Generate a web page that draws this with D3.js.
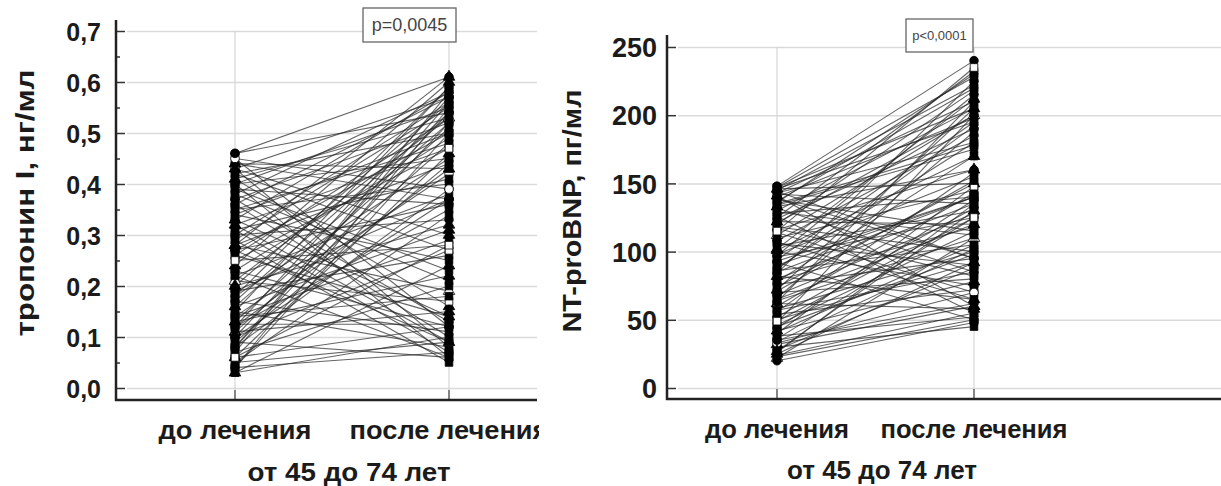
<!DOCTYPE html>
<html lang="ru">
<head>
  <meta charset="UTF-8">
  <title>тропонин I и NT-proBNP до и после лечения</title>
  <style>
    body{ margin: 0; background: #fff; }
    text{ font-family: "Liberation Sans", Arial, sans-serif; }
    .lbl{ font-weight: bold; fill: #1b1b1b; }
    .grid line{ stroke: #dadada; stroke-width: 1.5px; }
    .grid path{ display: none; }
    .ticks line{ stroke: #333; stroke-width: 1.5px; }
    .ticks path{ display: none; }
    .pair{ fill: none; stroke: #222; stroke-width: 1.1px; stroke-opacity: 0.7; }
    .frame{ stroke: #222; stroke-width: 2.5px; }
    .vgrid{ stroke: #d6d6d6; stroke-width: 1.2px; }
  </style>
</head>
<body>
  <script src="https://cdn.jsdelivr.net/npm/d3@7/dist/d3.min.js"></script>
  <script>
    const groups = ['до лечения', 'после лечения'];
    const ageLabel = 'от 45 до 74 лет';

    // тропонин I, нг/мл (пары до / после)
    const tropBefore = [0.46,0.45,0.44,0.43,0.43,0.42,0.42,0.41,0.40,0.40,0.39,0.38,0.37,0.36,0.35,0.34,0.33,0.33,0.32,0.31,0.30,0.29,0.28,0.28,0.27,0.26,0.25,0.24,0.23,0.23,0.22,0.21,0.20,0.19,0.18,0.17,0.17,0.16,0.15,0.15,0.14,0.13,0.13,0.125,0.12,0.12,0.11,0.11,0.10,0.10,0.09,0.09,0.08,0.08,0.07,0.07,0.06,0.06,0.05,0.05,0.04,0.04,0.03,0.03,0.36,0.31,0.27,0.21,0.19,0.14,0.26,0.39,0.44,0.29,0.35,0.41,
      0.45,0.43,0.40,0.38,0.37,0.34,0.32,0.30,0.27,0.25,0.22,0.20,0.18,0.16,0.14,0.12,0.10,0.08,0.06,0.04,0.46,0.28];
    const tropAfter = [0.61,0.12,0.43,0.08,0.57,0.27,0.50,0.16,0.55,0.06,0.36,0.21,0.52,0.10,0.40,0.25,0.58,0.14,0.47,0.07,0.33,0.55,0.19,0.44,0.09,0.53,0.28,0.60,0.12,0.49,0.38,0.17,0.56,0.26,0.45,0.11,0.54,0.31,0.59,0.08,0.42,0.51,0.22,0.125,0.57,0.35,0.48,0.15,0.54,0.27,0.44,0.06,0.39,0.52,0.20,0.58,0.12,0.46,0.09,0.34,0.07,0.55,0.24,0.10,0.57,0.41,0.50,0.53,0.37,0.29,0.14,0.23,0.37,0.05,0.48,0.53,
      0.39,0.30,0.45,0.58,0.13,0.50,0.09,0.56,0.36,0.47,0.06,0.32,0.59,0.52,0.18,0.43,0.37,0.56,0.28,0.50,0.54,0.61];
    const tropTicks = [0, 0.1, 0.2, 0.3, 0.4, 0.5, 0.6, 0.7];
    const tropMinor = [0.05, 0.15, 0.25, 0.35, 0.45, 0.55, 0.65];

    // NT-proBNP, пг/мл
    const bnpBefore = [148,147,146,145,144,143,142,141,140,138,136,134,132,130,128,126,124,122,120,118,116,114,112,110,108,106,104,102,100,98,96,94,92,90,88,86,84,82,80,78,76,74,72,70,68,66,64,62,60,58,56,54,52,50,48,46,44,42,40,38,36,34,32,30,28,26,24,22,20,135,125,117,97,85,65,45,33,27,
      147,143,139,137,133,129,121,115,107,101,93,87,79,71,63,57,49,41,35,25,23,146];
    const bnpAfter = [240,228,150,222,95,210,135,60,198,115,230,175,85,205,140,55,190,120,218,100,160,70,200,145,185,90,130,212,75,155,125,195,50,140,180,105,225,65,135,170,95,150,205,80,128,188,110,58,143,100,158,72,132,92,200,115,138,78,148,52,125,102,60,45,88,135,55,110,48,178,232,82,215,140,120,98,70,130,
      205,180,95,220,160,112,200,235,65,170,140,192,118,152,210,85,125,105,62,92,50,195];
    const bnpTicks = [0, 50, 100, 150, 200, 250];

    const svg = d3.select('body').append('svg').attr('width', 1221).attr('height', 486);

    function stretched(sel, len){
      return sel.attr('textLength', len).attr('lengthAdjust', 'spacingAndGlyphs');
    }

    function panel(c){
      const g = svg.append('g');
      if(c.clip){
        svg.append('clipPath').attr('id', c.id).append('rect')
          .attr('x', 0).attr('y', 0).attr('width', c.clip).attr('height', 486);
        g.attr('clip-path', `url(#${c.id})`);
      }
      const y = d3.scaleLinear().domain(c.domain).range(c.yRange);
      const x = d3.scalePoint().domain(groups).range(c.xRange);

      // horizontal grid
      g.append('g').attr('class', 'grid')
        .attr('transform', `translate(${c.right},0)`)
        .call(d3.axisLeft(y).tickValues(c.ticks).tickSize(c.right - c.left - 11).tickFormat(''));
      // vertical grid at categories
      groups.forEach(k => {
        g.append('line').attr('class', 'vgrid')
          .attr('x1', x(k)).attr('x2', x(k)).attr('y1', y(c.ticks[c.ticks.length - 1])).attr('y2', c.bottom);
        g.append('line').attr('stroke', '#444').attr('stroke-width', 1.2)
          .attr('x1', x(k)).attr('x2', x(k)).attr('y1', c.bottom - 10).attr('y2', c.bottom);
      });

      const pairs = c.before.map((v, i) => [v, c.after[i]]);
      const line = d3.line().x((d, j) => x(groups[j])).y(d => y(d));
      g.selectAll('path.pair').data(pairs).enter().append('path')
        .attr('class', 'pair')
        .attr('d', d => line(d));

      const pts = [];
      pairs.forEach((p, i) => { pts.push({ k: groups[0], v: p[0], i }); pts.push({ k: groups[1], v: p[1], i }); });
      const sym = d3.symbol().size(58);
      g.selectAll('path.mk').data(pts).enter().append('path')
        .attr('class', 'mk')
        .attr('transform', d => `translate(${x(d.k)},${y(d.v)})`)
        .attr('d', d => sym.type(d.i % 4 === 0 ? d3.symbolCircle : d.i % 5 === 2 ? d3.symbolTriangle : d3.symbolSquare)())
        .attr('fill', d => d.i % 9 === 4 ? '#fff' : '#000')
        .attr('stroke', '#000').attr('stroke-width', 0.8);

      // axis ticks (inside) and labels
      g.append('g').attr('class', 'ticks')
        .attr('transform', `translate(${c.left},0)`)
        .call(d3.axisLeft(y).tickValues(c.ticks).tickSize(-9).tickPadding(c.pad)
          .tickFormat(c.format))
        .selectAll('text').attr('class', 'lbl').style('font-size', c.tickSize + 'px').attr('dy', '0.36em');
      if(c.minor){
        g.append('g').attr('class', 'ticks')
          .attr('transform', `translate(${c.left},0)`)
          .call(d3.axisLeft(y).tickValues(c.minor).tickSize(-4).tickFormat(''));
      }

      g.append('line').attr('class', 'frame')
        .attr('x1', c.left).attr('x2', c.left).attr('y1', c.top).attr('y2', c.bottom + 1);
      g.append('line').attr('class', 'frame')
        .attr('x1', c.left - 1).attr('x2', c.right).attr('y1', c.bottom).attr('y2', c.bottom);

      groups.forEach((k, j) => {
        stretched(g.append('text').attr('class', 'lbl').attr('x', x(k)).attr('y', c.catY)
          .attr('text-anchor', 'middle').style('font-size', c.catSize + 'px').text(k), c.catLen[j]);
      });
      stretched(g.append('text').attr('class', 'lbl').attr('x', c.ageX).attr('y', c.ageY)
        .attr('text-anchor', 'middle').style('font-size', c.catSize + 'px').text(ageLabel), c.ageLen);

      stretched(g.append('text').attr('class', 'lbl')
        .attr('transform', `translate(${c.titleX},${c.titleY}) rotate(-90)`)
        .attr('text-anchor', 'middle').attr('dy', '0.36em')
        .style('font-size', c.titleSize + 'px').text(c.title), c.titleLen);

      const b = c.pBox;
      g.append('rect').attr('x', b[0]).attr('y', b[1]).attr('width', b[2]).attr('height', b[3])
        .attr('fill', '#fff').attr('stroke', '#666').attr('stroke-width', 1.3);
      g.append('text').attr('x', b[0] + b[2] / 2).attr('y', b[1] + b[3] / 2).attr('dy', '0.36em')
        .attr('text-anchor', 'middle').attr('fill', '#444').style('font-size', c.pSize + 'px').text(c.pText);
    }

    panel({
      id: 'clipL', clip: 539,
      before: tropBefore, after: tropAfter,
      domain: [0, 0.7], yRange: [388, 31], xRange: [235, 449],
      ticks: tropTicks, minor: tropMinor, format: d => d.toFixed(1).replace('.', ','),
      left: 116, right: 537, top: 20, bottom: 400, pad: 15, tickSize: 25,
      catY: 439, catSize: 26, catLen: [153, 199], ageX: 349, ageY: 481, ageLen: 203,
      title: 'тропонин I, нг/мл', titleX: 25, titleY: 203, titleSize: 25, titleLen: 267,
      pBox: [363, 8, 93, 34], pText: 'p=0,0045', pSize: 18
    });

    panel({
      id: 'clipR', clip: null,
      before: bnpBefore, after: bnpAfter,
      domain: [0, 250], yRange: [388, 47], xRange: [777, 974],
      ticks: bnpTicks, minor: null, format: d => String(d),
      left: 667, right: 1221, top: 35, bottom: 399, pad: 10, tickSize: 27,
      catY: 438, catSize: 26, catLen: [144, 187], ageX: 882, ageY: 479, ageLen: 190,
      title: 'NT-proBNP, пг/мл', titleX: 572, titleY: 211, titleSize: 26, titleLen: 243,
      pBox: [906, 19, 67, 33], pText: 'p<0,0001', pSize: 13
    });
  </script>
</body>
</html>
